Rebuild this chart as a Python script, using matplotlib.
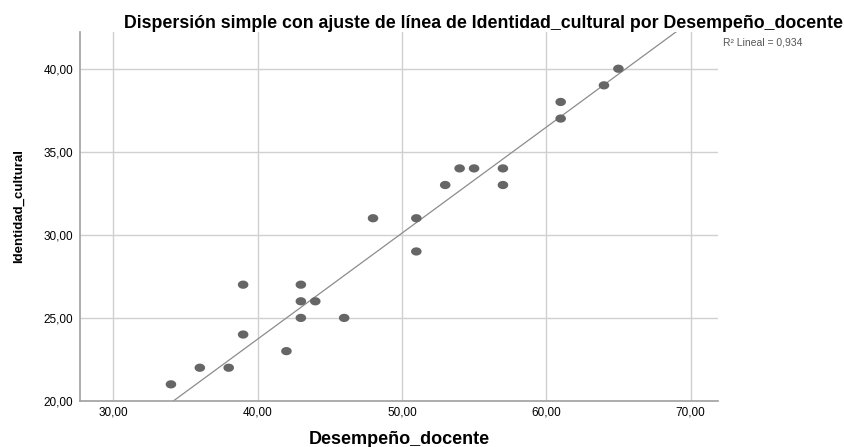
import numpy as np
import matplotlib
matplotlib.use("Agg")
from matplotlib import pyplot as plt
from matplotlib.path import Path

plt.rcParams['font.family'] = ['Liberation Sans', 'DejaVu Sans']

# datos
desempeno = [34, 36, 38, 39, 39, 42, 43, 43, 44, 43, 46, 48,
             51, 51, 53, 54, 55, 57, 57, 61, 61, 64, 65]
identidad = [21, 22, 22, 27, 24, 23, 27, 26, 26, 25, 25, 31,
             31, 29, 33, 34, 34, 34, 33, 38, 37, 39, 40]
x_ticks = [30, 40, 50, 60, 70]
y_ticks = [20, 25, 30, 35, 40]
# ajuste lineal tal como aparece en el gráfico
fit_intercept = -1.8
fit_slope = 0.638
r2_text = "R² Lineal = 0,934"

fig = plt.figure(figsize=(8.45, 4.47), dpi=100)
ax = fig.add_axes([0.0947, 0.103, 0.755, 0.825])

# marcador elíptico (un poco más ancho que alto)
t = np.linspace(0, 2 * np.pi, 40)
ellipse = Path(np.column_stack([np.cos(t), 0.78 * np.sin(t)]))

ax.grid(True, color='#d0d0d0', lw=1.0)
ax.set_axisbelow(True)

ax.scatter(desempeno, identidad, marker=ellipse, s=58, color='#666666',
           edgecolors='none', zorder=3)

xl = np.array([27.7, 71.9])
ax.plot(xl, fit_intercept + fit_slope * xl, color='#8c8c8c', lw=0.9, zorder=2)

ax.set_xlim(27.7, 71.9)
ax.set_ylim(20, 42.2)
ax.set_xticks(x_ticks)
ax.set_yticks(y_ticks)
ax.set_xticklabels([f"{v:.2f}".replace('.', ',') for v in x_ticks])
ax.set_yticklabels([f"{v:.2f}".replace('.', ',') for v in y_ticks])
ax.tick_params(axis='x', length=0, labelsize=8.5, pad=4)
ax.tick_params(axis='y', length=0, labelsize=8.5, pad=5)

for s in ['top', 'right']:
    ax.spines[s].set_visible(False)
for s in ['left', 'bottom']:
    ax.spines[s].set_color('#a0a0a0')
    ax.spines[s].set_linewidth(1.2)

ax.set_xlabel("Desempeño_docente", fontsize=13, fontweight='bold', labelpad=9)
ax.set_ylabel("Identidad_cultural", fontsize=9.5, fontweight='bold')
ax.yaxis.set_label_coords(-0.086, 0.53)

fig.text(0.998, 0.937, "Dispersión simple con ajuste de línea de Identidad_cultural por Desempeño_docente",
         ha='right', va='baseline', fontsize=12.8, fontweight='bold')
fig.text(0.856, 0.905, r2_text, ha='left', va='center', fontsize=7.5, color='#555555')

fig.savefig("out.png", dpi=100)
